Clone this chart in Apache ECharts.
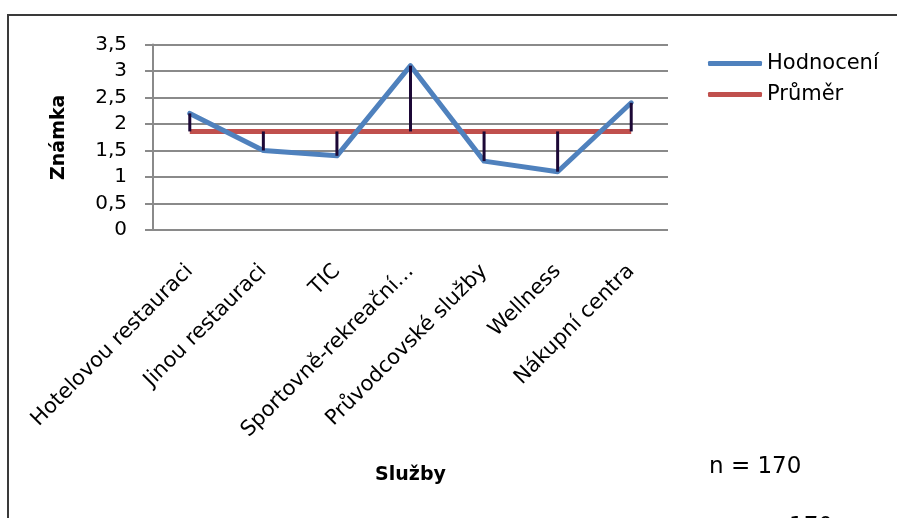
<!DOCTYPE html>
<html>
<head>
<meta charset="utf-8">
<script src="https://cdn.jsdelivr.net/npm/echarts@6/dist/echarts.min.js"></script>
<style>
  html, body { margin: 0; padding: 0; background: #fff; }
  #chart { width: 897px; height: 518px; }
</style>
</head>
<body>
<div id="chart"></div>
<script>
// Rated services and their average grades
const sluzby = [
  'Hotelovou restauraci',
  'Jinou restauraci',
  'TIC',
  'Sportovně-rekreační…',
  'Průvodcovské služby',
  'Wellness',
  'Nákupní centra'
];
const hodnoceni = [2.2, 1.5, 1.4, 3.1, 1.3, 1.1, 2.4];
const prumer = [1.86, 1.86, 1.86, 1.86, 1.86, 1.86, 1.86];
const yTicks = { min: 0, max: 3.5, step: 0.5 };

const FONT = '"DejaVu Sans", sans-serif';
const GRID_GRAY = '#8a8a8a';
const chart = echarts.init(document.getElementById('chart'), null, { renderer: 'canvas' });

chart.setOption({
  animation: false,
  backgroundColor: '#fff',
  textStyle: { fontFamily: FONT, color: '#000' },
  grid: { left: 153, right: 229, top: 44.5, bottom: 288 },
  legend: {
    left: 703, top: 48,
    orient: 'vertical',
    itemWidth: 54, itemHeight: 5, itemGap: 10,
    icon: 'roundRect',
    textStyle: { fontFamily: FONT, fontSize: 21, color: '#000' },
    data: ['Hodnocení', 'Průměr']
  },
  xAxis: {
    type: 'category',
    data: sluzby,
    boundaryGap: true,
    name: 'Služby',
    nameLocation: 'middle',
    nameGap: 236,
    nameTextStyle: { fontFamily: FONT, fontSize: 19, fontWeight: 'bold', color: '#000' },
    axisLine: { show: false },
    axisTick: { show: false },
    axisLabel: { rotate: 45, fontSize: 21, color: '#000', margin: 38, interval: 0 }
  },
  yAxis: {
    type: 'value',
    min: yTicks.min, max: yTicks.max, interval: yTicks.step,
    name: 'Známka',
    nameLocation: 'middle',
    nameGap: 84,
    nameRotate: 90,
    nameTextStyle: { fontFamily: FONT, fontSize: 19, fontWeight: 'bold', color: '#000' },
    axisLine: { show: true, lineStyle: { color: GRID_GRAY, width: 2 } },
    axisTick: { show: true, length: 8, lineStyle: { color: GRID_GRAY, width: 2 } },
    axisLabel: {
      fontSize: 20, color: '#000', margin: 26,
      formatter: v => String(v).replace('.', ',')
    },
    splitLine: { show: true, lineStyle: { color: GRID_GRAY, width: 2 } }
  },
  series: [
    {
      name: 'Hodnocení',
      type: 'line',
      data: hodnoceni,
      symbol: 'none',
      z: 3,
      color: '#4F81BD',
      lineStyle: { color: '#4F81BD', width: 5, cap: 'round', join: 'round' }
    },
    {
      name: 'Průměr',
      type: 'line',
      data: prumer,
      symbol: 'none',
      z: 2,
      color: '#C0504D',
      lineStyle: { color: '#C0504D', width: 5 }
    },
    {
      // high-low connectors between the rating and the average
      name: 'spojnice',
      type: 'custom',
      z: 4,
      data: hodnoceni.map((v, i) => [i, v, prumer[i]]),
      renderItem: (params, api) => {
        const a = api.coord([api.value(0), api.value(1)]);
        const b = api.coord([api.value(0), api.value(2)]);
        return {
          type: 'line',
          shape: { x1: a[0], y1: a[1], x2: b[0], y2: b[1] },
          style: { stroke: '#1c0836', lineWidth: 3 }
        };
      }
    }
  ],
  graphic: [
    {
      type: 'polyline',
      shape: { points: [[8, 518], [8, 15], [897, 15]] },
      style: { stroke: '#3a3a3a', lineWidth: 2, fill: null }
    },
    {
      type: 'text', x: 709, y: 467,
      style: { text: 'n = 170', font: '23px ' + FONT, fill: '#000', verticalAlign: 'middle' }
    },
    {
      type: 'text', x: 789, y: 527,
      style: { text: '170', font: '23px ' + FONT, fill: '#000', verticalAlign: 'middle' }
    }
  ]
});
</script>
</body>
</html>
